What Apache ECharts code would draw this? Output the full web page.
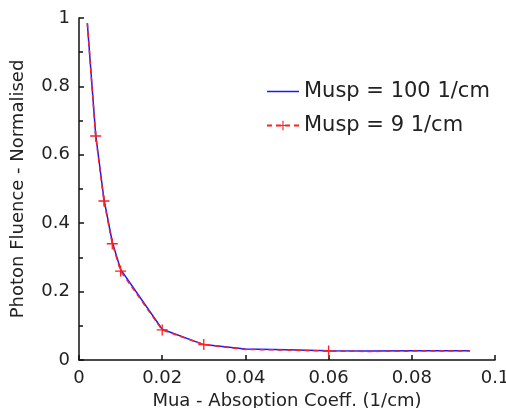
<!DOCTYPE html>
<html>
<head>
<meta charset="utf-8">
<script src="https://cdn.jsdelivr.net/npm/echarts@6/dist/echarts.min.js"></script>
<style>
  html, body { margin: 0; padding: 0; background: #fff; }
  #main { width: 506px; height: 408px; }
</style>
</head>
<body>
<div id="main"></div>
<script>
// absorption coefficient (1/cm) and normalised fluence
var mua = [0.002, 0.004, 0.006, 0.008, 0.01, 0.02, 0.03, 0.04, 0.05, 0.06, 0.07, 0.08, 0.09, 0.094];
var fluence100 = [0.985, 0.66, 0.47, 0.345, 0.265, 0.09, 0.045, 0.032, 0.03, 0.027, 0.026, 0.027, 0.027, 0.027];
var fluence9 = [0.985, 0.655, 0.465, 0.34, 0.26, 0.088, 0.045, 0.031, 0.029, 0.026, 0.025, 0.026, 0.026, 0.026];
// points where the "+" marker is visible
var markedMua = [0.004, 0.006, 0.008, 0.01, 0.02, 0.03, 0.06];

var font = 'DejaVu Sans';
var plus = 'path://M4.4,0h1.2v4.4h4.4v1.2h-4.4v4.4h-1.2v-4.4h-4.4v-1.2h4.4z';
// plain line icon for the solid series (tiny corner specks keep the box size)
var lineIcon = 'path://M0,0h0.01v0.01h-0.01z M0,5.2h32v1.6h-32z M31.99,11.99h0.01v0.01h-0.01z';

var myChart = echarts.init(document.getElementById('main'));

var blueData = mua.map((x, i) => [x, fluence100[i]]);
var redData = mua.map((x, i) => ({
  value: [x, fluence9[i]],
  symbol: markedMua.includes(x) ? plus : 'none'
}));

var axisCommon = {
  axisLine: { lineStyle: { color: '#111', width: 1.5 } },
  axisTick: { inside: true, length: 5, lineStyle: { color: '#111', width: 1.5 } },
  axisLabel: { color: '#222', fontFamily: font, fontSize: 18, margin: 9 },
  splitLine: { show: false },
  nameTextStyle: { color: '#222', fontFamily: font, fontSize: 18 }
};

myChart.setOption({
  animation: false,
  backgroundColor: '#fff',
  grid: { left: 79, right: 11, top: 18, bottom: 48, outerBoundsMode: 'none', containLabel: false },
  legend: {
    orient: 'vertical',
    left: 261,
    top: 76,
    itemWidth: 32,
    itemHeight: 12,
    itemGap: 13,
    textStyle: { color: '#222', fontFamily: font, fontSize: 21 },
    data: [
      { name: 'Musp = 100 1/cm', icon: lineIcon },
      'Musp = 9 1/cm'
    ]
  },
  xAxis: Object.assign({}, axisCommon, {
    type: 'value',
    min: 0,
    max: 0.1,
    interval: 0.02,
    name: 'Mua - Absoption Coeff. (1/cm)',
    nameLocation: 'middle',
    nameGap: 27
  }),
  yAxis: Object.assign({}, axisCommon, {
    type: 'value',
    min: 0,
    max: 1,
    interval: 0.2,
    name: 'Photon Fluence - Normalised',
    nameLocation: 'middle',
    nameGap: 52,
    minorTick: { show: true, splitNumber: 2, length: 4, lineStyle: { color: '#111', width: 1.5 } }
  }),
  series: [
    {
      name: 'Musp = 100 1/cm',
      type: 'line',
      data: blueData,
      symbol: 'none',
      lineStyle: { color: '#1a1aff', width: 1.5 },
      itemStyle: { color: '#1a1aff' }
    },
    {
      name: 'Musp = 9 1/cm',
      type: 'line',
      data: redData,
      symbol: plus,
      symbolSize: 11,
      lineStyle: { color: '#ff2020', width: 1.5, type: [5, 4] },
      itemStyle: { color: '#ff2020' }
    }
  ]
});
</script>
</body>
</html>
